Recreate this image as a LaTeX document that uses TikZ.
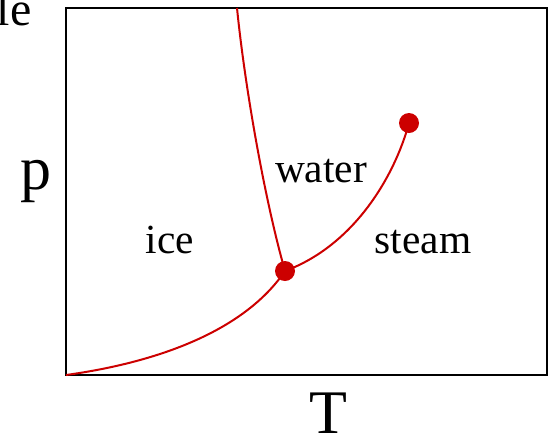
\documentclass[tikz,border=0pt]{standalone}
\usepackage{fontspec}
\setmainfont{Liberation Serif}
\usepackage{tikz}
\usetikzlibrary{positioning,calc}
\definecolor{cred}{RGB}{204,0,0}
\tikzset{frame/.style={draw=black, line width=1pt}}
\tikzset{curve/.style={draw=cred, line width=1pt}}
\tikzset{dot/.style={circle, fill=cred, draw=none, inner sep=0pt, minimum size=10pt}}
\tikzset{lab/.style={draw=none, fill=none, anchor=base, inner sep=0pt, font=\fontsize{20.7}{24}\selectfont}}
\tikzset{axlab/.style={draw=none, fill=none, anchor=base, inner sep=0pt, font=\fontsize{31}{36}\selectfont}}

\begin{document}
\begin{tikzpicture}[x=0.5pt, y=-0.5pt]
        \useasboundingbox (0,0) rectangle (552,436);
        
        %%% FRAME %%%
        \coordinate (bl) at (66,375);
        \coordinate (tr) at (547,8);
        \draw[frame] (bl) rectangle (tr);
        
        %%% POINTS %%%
        \node[dot] (tp) at (285,271) {};
        \node[dot] (cp) at (409,123) {};
        \coordinate (mtop) at (237,8);
        
        %%% CURVES %%%
        \draw[curve] (bl) .. controls (160,362) and (245,330) .. (tp.center);
        \draw[curve] (mtop) .. controls (245,88) and (265,201) .. (tp.center);
        \draw[curve] (tp.center) .. controls (355,245) and (395,175) .. (cp.center);
        
        %%% LABELS %%%
        \node[lab] (water) at (321,182) {water};
        \node[lab] (ice) at (170,253) {ice};
        \node[lab] (steam) at (423,253) {steam};
        \node[axlab] (plab) at (36,189) {p};
        \node[axlab] (tlab) at (328.5,433) {T};
        \node[draw=none, anchor=base east, inner sep=0pt, font=\fontsize{24}{28}\selectfont] (cut) at (32,25) {le};
    \end{tikzpicture}
\end{document}
